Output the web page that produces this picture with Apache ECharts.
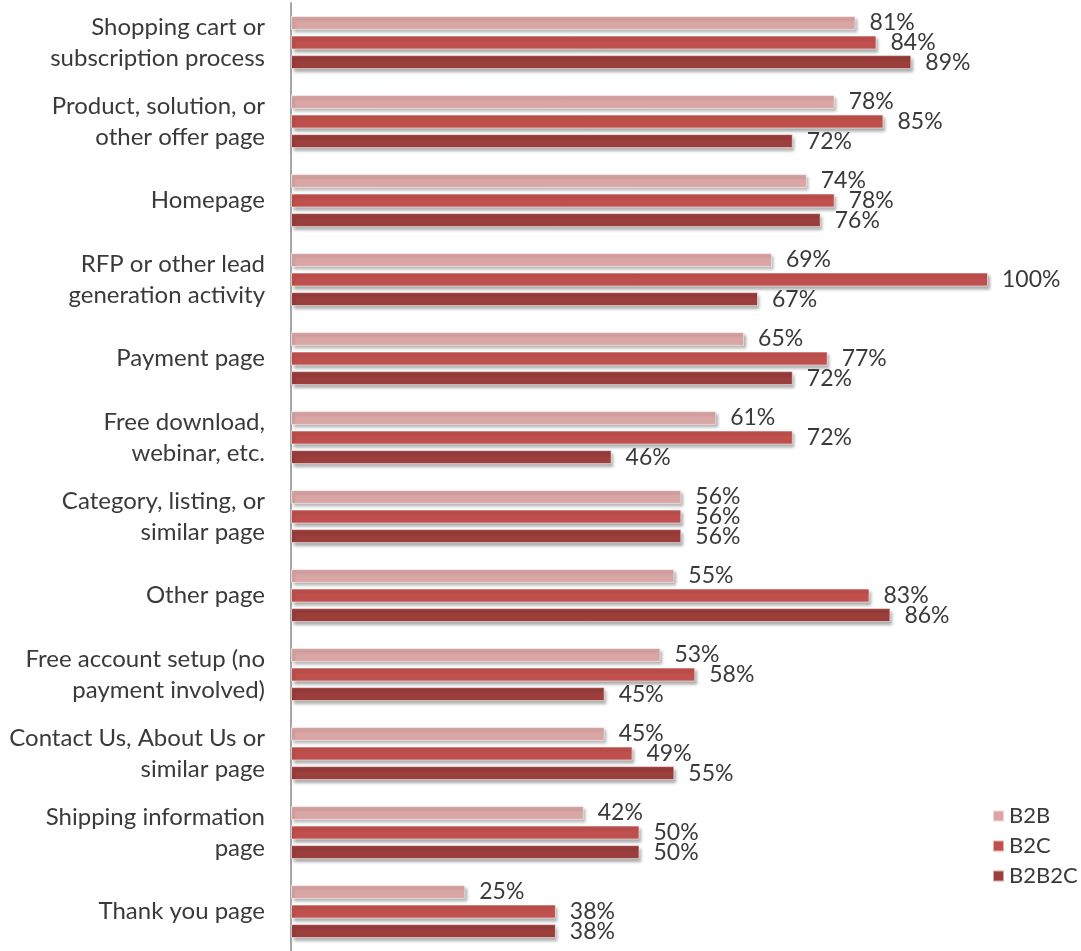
<!DOCTYPE html>
<html>
<head>
<meta charset="utf-8">
<script src="https://cdn.jsdelivr.net/npm/echarts@6/dist/echarts.min.js"></script>
<style>html,body{margin:0;padding:0;background:#fff}#c{width:1081px;height:951px}</style>
</head>
<body>
<div id="c"></div>
<script>
const categories = [
  "Shopping cart or\nsubscription process",
  "Product, solution, or\nother offer page",
  "Homepage",
  "RFP or other lead\ngeneration activity",
  "Payment page",
  "Free download,\nwebinar, etc.",
  "Category, listing, or\nsimilar page",
  "Other page",
  "Free account setup (no\npayment involved)",
  "Contact Us, About Us or\nsimilar page",
  "Shipping information\npage",
  "Thank you page"
];
const b2b   = [81, 78, 74, 69, 65, 61, 56, 55, 53, 45, 42, 25];
const b2c   = [84, 85, 78, 100, 77, 72, 56, 83, 58, 49, 50, 38];
const b2b2c = [89, 72, 76, 67, 72, 46, 56, 86, 45, 55, 50, 38];
const seriesNames = ["B2B", "B2C", "B2B2C"];
const colors = ["#DAA6A5", "#C0504D", "#9B3E3C"];

const FONT = "Lato";
const TXT = "#3a3a3a";

function mk(name, data, color) {
  return {
    name: name,
    type: "bar",
    data: data,
    barWidth: 14,
    barGap: "40%",
    itemStyle: {
      color: color,
      borderColor: "rgba(255,255,255,0.55)",
      borderWidth: 1,
      shadowColor: "rgba(0,0,0,0.35)",
      shadowBlur: 3,
      shadowOffsetX: 2,
      shadowOffsetY: 3
    },
    label: {
      show: true,
      position: "right",
      distance: 14,
      formatter: "{c}%",
      fontFamily: FONT,
      fontSize: 23,
      color: TXT
    }
  };
}

const chart = echarts.init(document.getElementById("c"));
chart.setOption({
  animation: false,
  backgroundColor: "#fff",
  color: colors,
  grid: { left: 291, right: 93, top: 3, height: 949, containLabel: false },
  legend: {
    orient: "vertical",
    left: 987,
    top: 800,
    icon: "rect",
    itemWidth: 11,
    itemHeight: 11,
    itemGap: 8,
    data: seriesNames,
    textStyle: { fontFamily: FONT, fontSize: 22, color: TXT, padding: [0, 0, 0, 0] }
  },
  xAxis: {
    type: "value",
    min: 0,
    max: 100,
    show: false
  },
  yAxis: {
    type: "category",
    inverse: true,
    data: categories,
    axisLine: { show: true, lineStyle: { color: "#a6a6a6", width: 2 } },
    axisTick: { show: false },
    axisLabel: {
      margin: 26,
      fontFamily: FONT,
      fontSize: 24,
      lineHeight: 31,
      align: "right",
      color: TXT
    }
  },
  series: [
    mk(seriesNames[0], b2b, colors[0]),
    mk(seriesNames[1], b2c, colors[1]),
    mk(seriesNames[2], b2b2c, colors[2])
  ]
});
</script>
</body>
</html>
